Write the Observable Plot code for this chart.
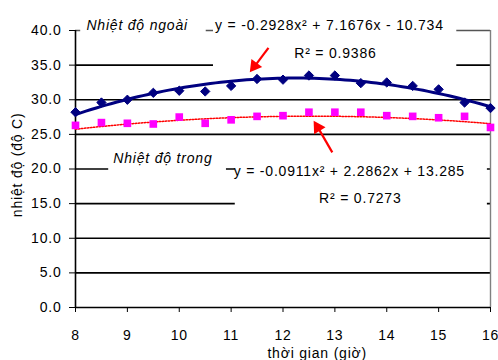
<!DOCTYPE html>
<html>
<head>
<meta charset="utf-8">
<script src="https://cdn.jsdelivr.net/npm/d3@7"></script>
<script src="https://cdn.jsdelivr.net/npm/@observablehq/plot@0.6"></script>
<style>
  html, body { margin: 0; padding: 0; background: #fff; }
</style>
</head>
<body>
<div id="chart"></div>
<script>
// ---- data ----
const hours   = [8, 8.5, 9, 9.5, 10, 10.5, 11, 11.5, 12, 12.5, 13, 13.5, 14, 14.5, 15, 15.5, 16];
const outside = [28.2, 29.6, 30.0, 31.0, 31.3, 31.2, 32.0, 33.0, 32.9, 33.5, 33.5, 32.4, 32.5, 32.0, 31.5, 29.6, 28.8];
const inside  = [26.3, 26.7, 26.6, 26.5, 27.5, 26.6, 27.1, 27.6, 27.7, 28.2, 28.2, 28.2, 27.7, 27.6, 27.4, 27.6, 26.0];
// trendline coefficients shown on the chart (a x^2 + b x + c)
const outsideCoef = [-0.2928, 7.1676, -10.734];
const insideCoef  = [-0.0911, 2.2862, 13.285];
const xTicks = [8, 9, 10, 11, 12, 13, 14, 15, 16];
const yTicks = [0, 5, 10, 15, 20, 25, 30, 35, 40];
const labelOutside = "Nhiệt độ ngoài";
const labelInside  = "Nhiệt độ trong";
const eqOutside = "y = -0.2928x² + 7.1676x - 10.734";
const r2Outside = "R² = 0.9386";
const eqInside  = "y = -0.0911x² + 2.2862x + 13.285";
const r2Inside  = "R² = 0.7273";
const xTitle = "thời gian (giờ)";
const yTitle = "nhiệt độ (độ C)";

// ---- build tables ----
const pts = hours.map((h, i) => ({h, out: outside[i], ins: inside[i]}));
const quad = (c, x) => c[0] * x * x + c[1] * x + c[2];
const fx = d3.range(8, 16.0001, 0.1);
const trendOut = fx.map(x => ({x, y: quad(outsideCoef, x)}));
const trendIn  = fx.map(x => ({x, y: quad(insideCoef, x)}));

// white label boxes (Excel label backgrounds hide grid lines)
const boxes = [
  {x1: 8.10, x2: 10.52, y1: 38.3, y2: 42.3},
  {x1: 10.66, x2: 15.35, y1: 33.4, y2: 42.9},
  {x1: 8.64, x2: 10.91, y1: 18.4, y2: 23.6},
  {x1: 11.08, x2: 15.94, y1: 13.2, y2: 22.3}
];
// annotation arrows (tail -> head) and head orientation
const arrows = [
  {x1: 11.72, y1: 37.5, x2: 11.47, y2: 35.0, hx: 11.45, hy: 34.85, angle: 217},
  {x1: 12.95, y1: 22.4, x2: 12.68, y2: 25.9, hx: 12.67, hy: 26.0, angle: -32}
];

const font = "'Liberation Sans', Arial, sans-serif";

const chart = Plot.plot({
  width: 498,
  height: 360,
  marginTop: 30,
  marginBottom: 53,
  marginLeft: 75,
  marginRight: 8,
  style: `font-family: ${font}; font-size: 14px; letter-spacing: 0.8px; background: white; color: black; overflow: visible;`,
  x: {domain: [8, 16], ticks: xTicks, tickSize: 5, tickPadding: 18, tickFormat: d => String(d), label: null},
  y: {domain: [0, 40], ticks: yTicks, tickSize: 6, tickPadding: 8, tickFormat: d3.format(".1f"), label: null},
  marks: [
    Plot.ruleY(yTicks.filter(d => d > 0 && d < 40), {stroke: "black", strokeWidth: 1.6}),
    Plot.ruleY([40], {stroke: "#555", strokeWidth: 1.6}),
    Plot.ruleX([16], {y1: 0, y2: 40, stroke: "#808080", strokeWidth: 1.4}),
    Plot.rect(boxes, {x1: "x1", x2: "x2", y1: "y1", y2: "y2", fill: "white", clip: false}),
    Plot.ruleY([0], {stroke: "black", strokeWidth: 1.6}),
    Plot.ruleX([8], {y1: 0, y2: 40, stroke: "black", strokeWidth: 1.6}),
    // inside series
    Plot.line(trendIn, {x: "x", y: "y", stroke: "#ff0000", strokeWidth: 1.5, strokeDasharray: "1.5,1.5"}),
    Plot.dot(pts, {x: "h", y: "ins", symbol: "square", r: 4.3, fill: "#ff00ff", stroke: "none"}),
    // outside series
    Plot.line(trendOut, {x: "x", y: "y", stroke: "#000080", strokeWidth: 3}),
    Plot.dot(pts, {x: "h", y: "out", symbol: "diamond2", r: 4.2, fill: "#000080", stroke: "#000080", strokeWidth: 1}),
    // arrows
    Plot.link(arrows, {x1: "x1", y1: "y1", x2: "x2", y2: "y2", stroke: "#ff0000", strokeWidth: 2.2}),
    Plot.dot(arrows, {x: "hx", y: "hy", symbol: "triangle", r: 5, rotate: "angle", fill: "#ff0000", stroke: "none"}),
    // annotation texts
    Plot.text([labelOutside], {x: 8.21, y: 40.72, text: d => d, textAnchor: "start", fontStyle: "italic", fontSize: 14, clip: false}),
    Plot.text([eqOutside], {x: 10.69, y: 40.72, text: d => d, textAnchor: "start", fontSize: 14, clip: false}),
    Plot.text([r2Outside], {x: 13.01, y: 36.67, text: d => d, textAnchor: "middle", fontSize: 14}),
    Plot.text([labelInside], {x: 8.73, y: 21.5, text: d => d, textAnchor: "start", fontStyle: "italic", fontSize: 14}),
    Plot.text([eqInside], {x: 11.05, y: 19.62, text: d => d, textAnchor: "start", fontSize: 14}),
    Plot.text([r2Inside], {x: 13.49, y: 15.71, text: d => d, textAnchor: "middle", fontSize: 14}),
    // axis titles
    Plot.text([xTitle], {x: 12.66, y: -6.6, text: d => d, textAnchor: "middle", fontSize: 14, clip: false}),
    Plot.text([yTitle], {x: 6.88, y: 20.6, text: d => d, textAnchor: "middle", rotate: -90, fontSize: 14, clip: false})
  ]
});

document.getElementById("chart").appendChild(chart);
</script>
</body>
</html>
